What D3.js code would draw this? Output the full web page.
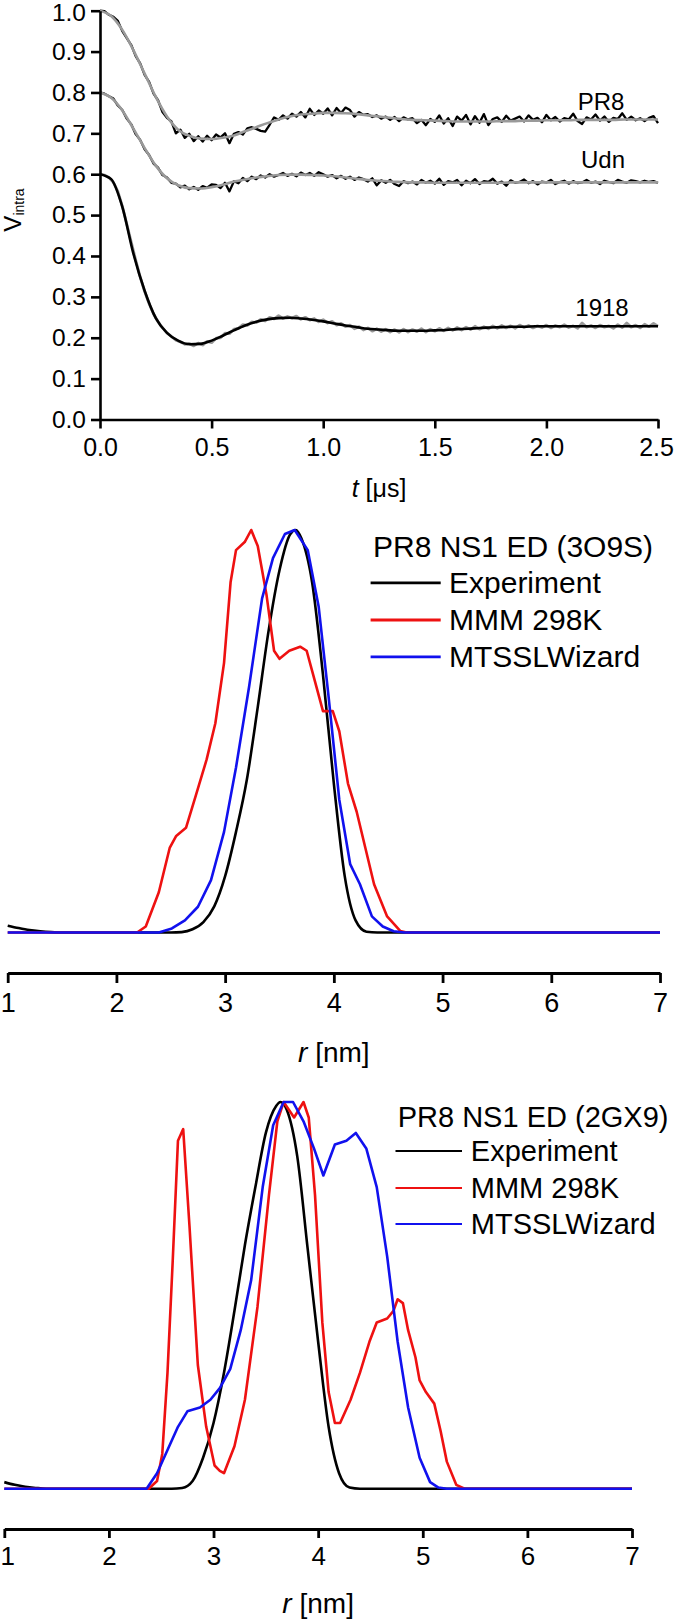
<!DOCTYPE html>
<html><head><meta charset="utf-8">
<script src="https://cdn.jsdelivr.net/npm/d3@7"></script>
<style>
body{margin:0;background:#fff}
svg{display:block}
text{font-family:"Liberation Sans",Arial,Helvetica,sans-serif;fill:#000}
</style>
</head><body>
<svg id="c" width="674" height="1620"></svg>
<script>
// ---------------- Panel A: V_intra(t) ----------------
const tTicks = [0, 0.5, 1.0, 1.5, 2.0, 2.5];
const vTicks = [0, 0.1, 0.2, 0.3, 0.4, 0.5, 0.6, 0.7, 0.8, 0.9, 1.0];
const dataStep = 0.02;   // time spacing of measured traces (µs)
const fitStep = 0.05;    // time spacing of fitted traces (µs)

const pr8Data = [1.000,0.999,0.990,0.985,0.975,0.950,0.933,0.916,0.889,0.871,0.843,0.826,0.797,0.781,0.752,0.738,0.729,0.700,0.709,0.689,
0.699,0.681,0.693,0.680,0.694,0.683,0.697,0.690,0.700,0.676,0.699,0.703,0.697,0.712,0.715,0.711,0.706,0.704,0.721,0.739,
0.733,0.744,0.736,0.748,0.741,0.752,0.739,0.760,0.745,0.756,0.748,0.761,0.744,0.762,0.750,0.763,0.757,0.741,0.752,0.745,
0.747,0.740,0.744,0.736,0.741,0.733,0.740,0.730,0.739,0.734,0.737,0.725,0.733,0.720,0.735,0.728,0.744,0.724,0.737,0.718,
0.741,0.731,0.745,0.722,0.742,0.726,0.747,0.720,0.735,0.739,0.728,0.743,0.731,0.736,0.741,0.729,0.744,0.733,0.738,0.727,
0.745,0.732,0.740,0.729,0.737,0.734,0.748,0.730,0.723,0.739,0.734,0.746,0.731,0.741,0.728,0.738,0.735,0.749,0.733,0.741,
0.732,0.737,0.730,0.738,0.742,0.725];
const pr8Fit = [1.000,0.987,0.953,0.903,0.846,0.789,0.741,0.709,0.694,0.687,0.686,0.689,0.695,0.705,0.715,0.725,0.734,0.741,0.746,0.748,
0.750,0.750,0.749,0.747,0.744,0.741,0.738,0.735,0.733,0.732,0.731,0.730,0.729,0.729,0.729,0.729,0.730,0.730,0.731,0.731,
0.732,0.732,0.732,0.733,0.733,0.733,0.733,0.734,0.734,0.734,0.734];

const udnData = [0.800,0.797,0.791,0.785,0.768,0.757,0.736,0.722,0.698,0.684,0.661,0.647,0.626,0.616,0.598,0.592,0.579,0.577,0.568,0.572,
0.563,0.569,0.562,0.571,0.567,0.575,0.574,0.566,0.579,0.558,0.583,0.578,0.591,0.583,0.594,0.588,0.597,0.592,0.600,0.594,
0.598,0.603,0.596,0.601,0.595,0.604,0.598,0.603,0.596,0.605,0.600,0.594,0.598,0.590,0.596,0.589,0.594,0.586,0.592,0.588,
0.582,0.590,0.573,0.585,0.579,0.586,0.576,0.571,0.583,0.578,0.582,0.575,0.586,0.579,0.584,0.577,0.589,0.574,0.583,0.580,
0.586,0.573,0.584,0.578,0.588,0.576,0.583,0.581,0.589,0.577,0.582,0.572,0.585,0.579,0.581,0.587,0.578,0.583,0.575,0.582,
0.580,0.586,0.576,0.581,0.584,0.577,0.583,0.578,0.580,0.586,0.579,0.582,0.576,0.584,0.581,0.578,0.586,0.582,0.579,0.585,
0.583,0.580,0.584,0.581,0.583,0.579];
const udnFit = [0.800,0.787,0.756,0.711,0.664,0.621,0.590,0.573,0.566,0.565,0.568,0.574,0.582,0.587,0.592,0.595,0.598,0.599,0.599,0.598,
0.597,0.595,0.592,0.589,0.586,0.584,0.582,0.581,0.580,0.580,0.579,0.579,0.579,0.579,0.579,0.579,0.579,0.580,0.580,0.580,
0.580,0.580,0.580,0.580,0.580,0.580,0.580,0.580,0.580,0.580,0.580];

const d1918Data = [0.600,0.598,0.592,0.580,0.558,0.522,0.478,0.434,0.390,0.349,0.313,0.283,0.258,0.239,0.224,0.212,0.203,0.194,0.190,0.184,
0.186,0.180,0.187,0.182,0.191,0.188,0.199,0.200,0.211,0.210,0.221,0.223,0.232,0.230,0.239,0.237,0.245,0.241,0.250,0.246,
0.254,0.247,0.252,0.248,0.253,0.245,0.250,0.243,0.247,0.239,0.244,0.236,0.240,0.231,0.235,0.227,0.231,0.222,0.227,0.219,
0.224,0.216,0.222,0.215,0.221,0.214,0.220,0.213,0.221,0.214,0.220,0.215,0.222,0.214,0.221,0.216,0.223,0.217,0.224,0.218,
0.225,0.219,0.226,0.220,0.228,0.221,0.227,0.222,0.229,0.223,0.230,0.224,0.229,0.223,0.231,0.225,0.230,0.224,0.229,0.225,
0.231,0.224,0.230,0.226,0.232,0.225,0.229,0.223,0.236,0.226,0.230,0.224,0.231,0.226,0.229,0.223,0.232,0.225,0.236,0.226,
0.231,0.224,0.233,0.227,0.235,0.228];
const d1918Fit = [0.600,0.588,0.520,0.405,0.315,0.248,0.212,0.193,0.184,0.185,0.193,0.205,0.218,0.230,0.239,0.245,0.248,0.249,0.247,0.244,
0.240,0.235,0.230,0.226,0.222,0.220,0.218,0.217,0.217,0.217,0.218,0.219,0.221,0.222,0.224,0.225,0.226,0.227,0.227,0.228,
0.228,0.228,0.228,0.228,0.228,0.228,0.228,0.228,0.228,0.228,0.228];

const seriesNames = ["PR8", "Udn", "1918"];

// ---------------- Panel B: P(r), 3O9S ----------------
const rTicks = [1, 2, 3, 4, 5, 6, 7];
const legendNames = ["Experiment", "MMM 298K", "MTSSLWizard"];
const colors = ["#000000", "#ee1111", "#1111ee"];

const midExpR = [1.0,1.1,1.2,1.3,1.4,1.5,2.5,2.6,2.7,2.8,2.9,3.0,3.1,3.2,3.3,3.4,3.5,3.6,3.65,3.7,3.8,3.9,4.0,4.1,4.2,4.3,4.4,7.0];
const midExpP = [0.017,0.011,0.006,0.003,0.001,0,0,0.001,0.008,0.026,0.065,0.14,0.25,0.38,0.56,0.75,0.90,0.99,1.0,0.98,0.87,0.64,0.37,0.14,0.03,0.002,0,0];
const midMmmR = [1.0,2.19,2.27,2.39,2.49,2.55,2.64,2.73,2.83,2.91,2.99,3.05,3.10,3.18,3.24,3.30,3.38,3.45,3.50,3.59,3.69,3.75,3.82,3.90,3.95,3.99,4.05,4.13,4.21,4.29,4.37,4.49,4.61,4.67,7.0];
const midMmmP = [0,0,0.015,0.10,0.21,0.24,0.26,0.34,0.43,0.52,0.67,0.87,0.95,0.97,1.0,0.96,0.84,0.70,0.68,0.70,0.71,0.70,0.63,0.55,0.55,0.55,0.50,0.37,0.30,0.21,0.12,0.04,0.004,0,0];
const midWizR = [1.0,2.39,2.51,2.63,2.75,2.87,2.99,3.10,3.22,3.34,3.44,3.55,3.64,3.76,3.86,3.95,4.05,4.15,4.24,4.35,4.45,4.55,4.65,7.0];
const midWizP = [0,0,0.01,0.03,0.064,0.13,0.25,0.41,0.61,0.83,0.93,0.99,1.0,0.95,0.81,0.59,0.33,0.17,0.12,0.04,0.015,0.003,0,0];

// ---------------- Panel C: P(r), 2GX9 ----------------
const botExpR = [1.0,1.1,1.2,1.3,1.4,2.6,2.7,2.8,2.9,3.0,3.1,3.2,3.3,3.4,3.5,3.6,3.64,3.7,3.8,3.9,4.0,4.1,4.2,4.3,4.4,7.0];
const botExpP = [0.017,0.01,0.005,0.002,0,0,0.002,0.02,0.08,0.17,0.30,0.46,0.63,0.78,0.92,0.99,1.0,0.98,0.86,0.62,0.38,0.16,0.04,0.003,0,0];
const botMmmR = [1.0,2.38,2.46,2.51,2.56,2.61,2.66,2.71,2.77,2.85,2.93,3.01,3.06,3.10,3.20,3.30,3.42,3.53,3.61,3.67,
3.77,3.86,3.91,3.97,4.04,4.10,4.16,4.21,4.31,4.40,4.49,4.56,4.66,4.72,4.76,4.81,4.86,4.93,4.97,5.03,5.11,5.17,5.23,5.32,5.40,7.0];
const botMmmP = [0,0,0.02,0.09,0.30,0.59,0.90,0.93,0.68,0.32,0.16,0.06,0.046,0.04,0.11,0.23,0.47,0.76,0.95,1.0,
0.96,1.0,0.96,0.76,0.43,0.25,0.17,0.17,0.23,0.30,0.38,0.43,0.44,0.46,0.49,0.48,0.41,0.34,0.28,0.25,0.22,0.15,0.07,0.01,0,0];
const botWizR = [1.0,2.36,2.46,2.56,2.66,2.75,2.87,2.97,3.06,3.16,3.26,3.36,3.47,3.57,3.67,3.76,3.86,3.96,4.05,4.16,4.27,4.36,4.46,4.56,4.66,4.76,4.86,4.97,5.07,5.15,5.23,7.0];
const botWizP = [0,0,0.04,0.10,0.16,0.20,0.21,0.23,0.26,0.31,0.41,0.54,0.78,0.94,1.0,1.0,0.95,0.88,0.81,0.89,0.90,0.92,0.88,0.78,0.60,0.38,0.21,0.08,0.017,0.003,0,0];

// =====================================================
const svg = d3.select("#c");
const FONT = '"Liberation Sans",Arial,Helvetica,sans-serif';

function styleAxis(g, fs, sw) {
  g.select(".domain").attr("stroke", "#000").attr("stroke-width", sw);
  g.selectAll(".tick line").attr("stroke", "#000").attr("stroke-width", sw);
  g.selectAll(".tick text").attr("font-size", fs).attr("font-family", FONT).attr("fill", "#000");
}

// ---------- Panel A ----------
const xT = d3.scaleLinear().domain([0, 2.5]).range([100, 658]);
const yT = d3.scaleLinear().domain([0, 1]).range([419.5, 10.7]);
const dataLine = d3.line().x((d, i) => xT(i * dataStep)).y(d => yT(d));
const fitLine = d3.line().x((d, i) => xT(i * fitStep)).y(d => yT(d)).curve(d3.curveMonotoneX);

const gA = svg.append("g");
// PR8 & Udn: black data, grey fit on top
[[pr8Data, pr8Fit], [udnData, udnFit]].forEach(([dat, fit]) => {
  gA.append("path").attr("d", dataLine(dat)).attr("fill", "none").attr("stroke", "#000").attr("stroke-width", 2.3).attr("stroke-linejoin", "round");
  gA.append("path").attr("d", fitLine(fit)).attr("fill", "none").attr("stroke", "#9a9a9a").attr("stroke-width", 2.6);
});
// 1918: grey data, black fit on top
gA.append("path").attr("d", dataLine(d1918Data)).attr("fill", "none").attr("stroke", "#9a9a9a").attr("stroke-width", 2.8).attr("stroke-linejoin", "round");
gA.append("path").attr("d", fitLine(d1918Fit)).attr("fill", "none").attr("stroke", "#000").attr("stroke-width", 2.6);

const xAxA = svg.append("g").attr("transform", "translate(0,419.5)")
  .call(d3.axisBottom(xT).tickValues(tTicks).tickFormat(d3.format(".1f")).tickSize(9).tickSizeOuter(0).tickPadding(10));
styleAxis(xAxA, 25, 2.6);
xAxA.selectAll(".tick text").filter(d => d === 2.5).attr("dx", -2);
const yAxA = svg.append("g").attr("transform", "translate(100,0)")
  .call(d3.axisLeft(yT).tickValues(vTicks).tickFormat(d3.format(".1f")).tickSize(9).tickSizeOuter(0).tickPadding(5));
styleAxis(yAxA, 24.5, 2.6);
yAxA.selectAll(".tick text").filter(d => d === 1).attr("dy", "0.4em");

// series labels
const labelPos = [[601, 110], [603, 168], [602, 316]];
seriesNames.forEach((n, i) => {
  svg.append("text").attr("x", labelPos[i][0]).attr("y", labelPos[i][1]).attr("text-anchor", "middle")
    .attr("font-size", 24).text(n);
});

// y label V_intra
const vl = svg.append("text").attr("transform", "translate(21,210) rotate(-90)").attr("text-anchor", "middle");
vl.append("tspan").attr("font-size", 24).text("V");
vl.append("tspan").attr("font-size", 14).attr("dy", 3).text("intra");

// x label t [µs]
const tl = svg.append("text").attr("x", 379).attr("y", 497).attr("text-anchor", "middle").attr("font-size", 25);
tl.append("tspan").attr("font-style", "italic").text("t");
tl.append("tspan").text(" [\u03bcs]");

// ---------- distance distribution panels ----------
function distPanel(cfg) {
  const x = d3.scaleLinear().domain([1, 7]).range(cfg.xr);
  const y = d3.scaleLinear().domain([0, 1]).range(cfg.yr);
  const g = svg.append("g");
  cfg.series.forEach((s, i) => {
    const ln = d3.line().x((d, j) => x(s.r[j])).y(d => y(d));
    if (i === 0) ln.curve(d3.curveMonotoneX);
    g.append("path").attr("d", ln(s.p)).attr("fill", "none").attr("stroke", colors[i])
      .attr("stroke-width", 2.6).attr("stroke-linejoin", "round");
  });
  const ax = svg.append("g").attr("transform", `translate(0,${cfg.axisY})`)
    .call(d3.axisBottom(x).tickValues(rTicks).tickFormat(d3.format("d")).tickSize(cfg.tickSize).tickSizeOuter(0).tickPadding(cfg.pad));
  styleAxis(ax, cfg.tickFs, 2.8);
  ax.selectAll(".tick text").filter(d => d === 1).attr("dx", cfg.firstDx);
  const lab = svg.append("text").attr("x", (cfg.xr[0] + cfg.xr[1]) / 2).attr("y", cfg.labelY)
    .attr("text-anchor", "middle").attr("font-size", 28);
  lab.append("tspan").attr("font-style", "italic").text("r");
  lab.append("tspan").text(" [nm]");
  // legend
  svg.append("text").attr("x", cfg.leg.titleX).attr("y", cfg.leg.titleY).attr("font-size", cfg.leg.fs).text(cfg.leg.title);
  legendNames.forEach((n, i) => {
    const ly = cfg.leg.lineY[i];
    svg.append("line").attr("x1", cfg.leg.x1).attr("x2", cfg.leg.x2).attr("y1", ly).attr("y2", ly)
      .attr("stroke", colors[i]).attr("stroke-width", cfg.leg.sw);
    svg.append("text").attr("x", cfg.leg.textX).attr("y", ly + 10).attr("font-size", cfg.leg.fs).text(n);
  });
}

distPanel({
  xr: [7.7, 660], yr: [932.5, 530], axisY: 973, tickSize: 10, pad: 10, tickFs: 27, labelY: 1062, firstDx: 0,
  series: [{ r: midExpR, p: midExpP }, { r: midMmmR, p: midMmmP }, { r: midWizR, p: midWizP }],
  leg: { title: "PR8 NS1 ED (3O9S)", titleX: 373, titleY: 557, fs: 30, x1: 370.6, x2: 440.7, textX: 449,
         lineY: [582.9, 620, 656.8], sw: 2.8 }
});

distPanel({
  xr: [4.3, 632], yr: [1488.7, 1102], axisY: 1529, tickSize: 9, pad: 8.5, tickFs: 26, labelY: 1613, firstDx: 3,
  series: [{ r: botExpR, p: botExpP }, { r: botMmmR, p: botMmmP }, { r: botWizR, p: botWizP }],
  leg: { title: "PR8 NS1 ED (2GX9)", titleX: 397.7, titleY: 1127, fs: 29, x1: 395.5, x2: 462, textX: 470.8,
         lineY: [1151, 1188, 1224], sw: 2.2 }
});
</script>
</body></html>
